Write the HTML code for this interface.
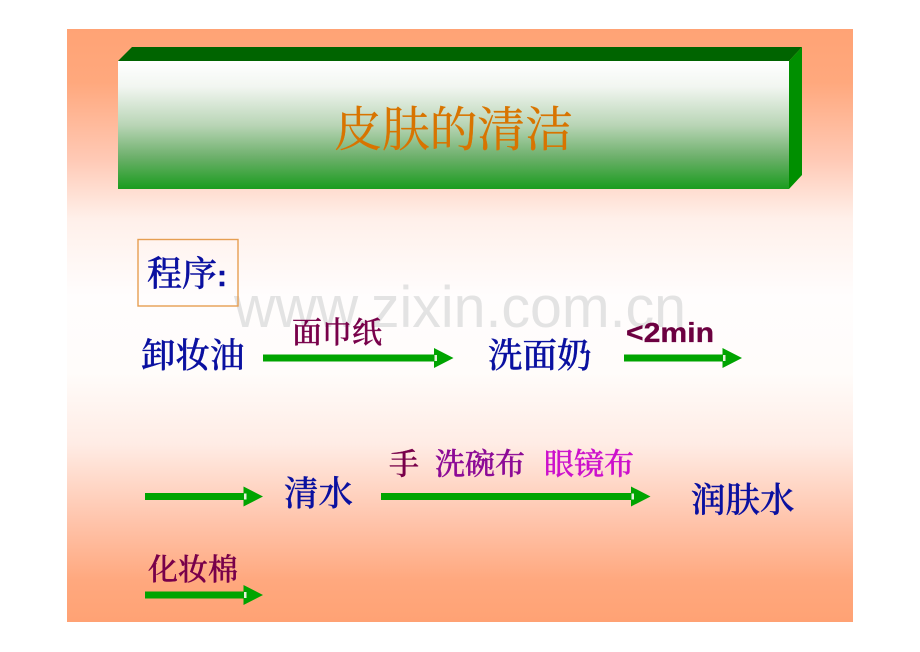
<!DOCTYPE html>
<html><head><meta charset="utf-8"><style>
html,body{margin:0;padding:0;background:#fff;width:920px;height:652px;overflow:hidden}
svg{display:block}
.s{font-family:"Liberation Serif","Noto Serif CJK SC",serif}
</style></head><body>
<svg width="920" height="652" viewBox="0 0 920 652" xmlns="http://www.w3.org/2000/svg">
<defs>
<linearGradient id="bg" x1="0" y1="0" x2="0" y2="1">
<stop offset="0" stop-color="#ffa375"/><stop offset="0.09" stop-color="#ffa87d"/><stop offset="0.22" stop-color="#ffc9b5"/><stop offset="0.32" stop-color="#fff0ea"/><stop offset="0.45" stop-color="#fffdfd"/><stop offset="0.58" stop-color="#fffcfa"/><stop offset="0.7" stop-color="#ffece5"/><stop offset="0.83" stop-color="#ffc4ab"/><stop offset="0.93" stop-color="#ffa87e"/><stop offset="1" stop-color="#ffa274"/>
</linearGradient>
<linearGradient id="box" x1="0" y1="0" x2="0" y2="1">
<stop offset="0" stop-color="#ffffff"/><stop offset="0.2" stop-color="#f2f6f1"/><stop offset="0.5" stop-color="#b9d5b6"/><stop offset="0.75" stop-color="#6db06b"/><stop offset="1" stop-color="#1a9c1e"/>
</linearGradient>
<g id="h"><polygon points="0,-10 19.500,0 0,10" fill="#00a400"/><rect x="0.500" y="-3" width="2.500" height="6" fill="#e6f2dc"/></g>
</defs>
<rect x="67" y="29" width="786" height="593" fill="url(#bg)"/>
<polygon points="118,61 132,47 802,47 789,61" fill="#006400"/>
<polygon points="789,61 802,47 802,175 789,189" fill="#008f00"/>
<rect x="118" y="61" width="671" height="128" fill="url(#box)"/>
<text class="s" x="334" y="146" font-size="48" fill="#d87400" stroke="#d87400" stroke-width="0.300" textLength="239" lengthAdjust="spacing">皮肤的清洁</text>
<text x="234" y="327" font-family="Liberation Sans,sans-serif" font-size="58" fill="#dcdcdc" fill-opacity="0.8" textLength="452" lengthAdjust="spacingAndGlyphs">www.zixin.com.cn</text>
<rect x="138" y="239.500" width="100" height="66.500" fill="none" stroke="#e69f52" stroke-width="1.400"/>
<text x="147" y="286" font-size="35" fill="#0a10a0" stroke="#0a10a0" stroke-width="0.400" class="s" font-weight="500">程序<tspan font-family="Liberation Sans,sans-serif" font-weight="700" font-size="30">:</tspan></text>
<g class="s" font-size="34.500" fill="#0a10a0" stroke="#0a10a0" stroke-width="0.400" font-weight="500">
<text x="141" y="367.500">卸妆油</text>
<text x="488" y="367.500">洗面奶</text>
<text x="284" y="505.500">清水</text>
<text x="691" y="512">润肤水</text>
</g>
<g class="s" font-size="30" font-weight="500" stroke-width="0.400">
<text x="292" y="343" fill="#78004a" stroke="#78004a">面巾纸</text>
<text x="389" y="474.500" fill="#78004a" stroke="#78004a">手</text>
<text x="435" y="474.500" fill="#8c0a96" stroke="#8c0a96">洗碗布</text>
<text x="544" y="474.500" fill="#cc10cc" stroke="#cc10cc">眼镜布</text>
<text x="148" y="580" fill="#78004a" stroke="#78004a">化妆棉</text>
</g>
<text x="626" y="342" font-family="Liberation Sans,sans-serif" font-weight="700" font-size="28" fill="#6c0040" stroke="#6c0040" stroke-width="0.300" textLength="88" lengthAdjust="spacingAndGlyphs">&lt;2min</text>
<g fill="#00a400">
<rect x="263" y="354.500" width="172" height="7"/><use href="#h" x="434" y="358"/>
<rect x="624" y="354.500" width="99" height="7"/><use href="#h" x="722.500" y="358"/>
<rect x="145" y="493" width="99" height="7"/><use href="#h" x="243.500" y="496.500"/>
<rect x="381" y="493" width="251" height="7"/><use href="#h" x="631" y="496.500"/>
<rect x="145" y="591.500" width="99" height="7"/><use href="#h" x="243.500" y="595"/>
</g>
</svg>
</body></html>
